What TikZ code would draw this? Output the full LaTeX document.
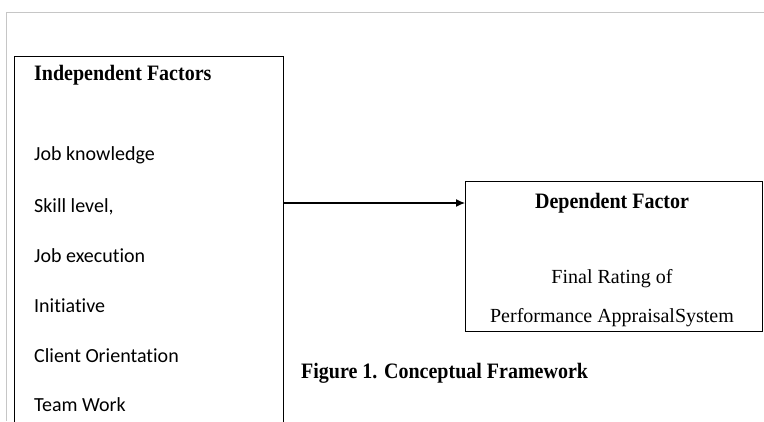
\documentclass[tikz,border=0pt]{standalone}
\usepackage{fontspec}
\setmainfont{Liberation Serif}
\newfontfamily\itemfont[RawFeature={-liga}]{Carlito}
\usetikzlibrary{arrows.meta}
\tikzset{
  framebox/.style={draw, line width=1.1pt, inner sep=0pt},
  head/.style={font=\fontsize{20}{24}\selectfont\bfseries, inner sep=0pt, yscale=1.1},
  plain/.style={font=\fontsize{20}{24}\selectfont, inner sep=0pt},
  factor/.style={anchor=west, font=\itemfont\fontsize{20}{24}\selectfont, inner sep=0pt}
}
\begin{document}
\begin{tikzpicture}[x=1pt,y=-1pt]
  \useasboundingbox (0,0) rectangle (764,421);
  \clip (0,0) rectangle (764,421);
  \draw[gray!45, line width=0.9pt] (6,421) -- (6,12) -- (764,12);
  % the two boxes
  \node[framebox, minimum width=269pt, minimum height=400pt, anchor=north west] (indep) at (14,56) {};
  \node[framebox, minimum width=297pt, minimum height=150pt, anchor=north west] (dep) at (465,181) {};
  % left box text
  \node[head, anchor=west] (indephead) at (34,75) {Independent Factors};
  \foreach \name/\ypos in {Job knowledge/155, {Skill level,}/207, Job execution/256,
                           Initiative/306, Client Orientation/356, Team Work/405}
    \node[factor] (f\ypos) at (34,\ypos) {\name};
  % right box text
  \node[head] (dephead) at (612,203) {Dependent Factor};
  \node[plain] (rating) at (612,279) {Final Rating of};
  \node[plain] (system) at (612,318) {Performance AppraisalSystem};
  \node[head, anchor=west] (caption) at (301,373) {Figure 1. Conceptual Framework};
  \draw[-{Latex[length=9pt,width=8pt]}, line width=1.2pt] (indep.east |- dephead) -- (dep.west |- dephead);
\end{tikzpicture}
\end{document}
